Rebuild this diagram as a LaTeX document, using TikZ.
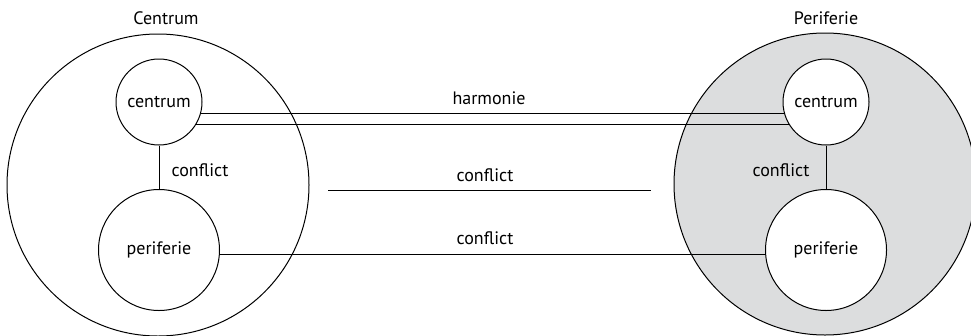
\documentclass[tikz,border=0pt]{standalone}
\usepackage{fontspec}
\setmainfont{PT Sans}
\definecolor{shade}{RGB}{220,221,222}
\begin{document}
\begin{tikzpicture}[x=1pt,y=-1pt, line width=1pt,
  font=\fontsize{18}{21}\selectfont,
  bigcirc/.style={circle, draw, minimum size=302pt, inner sep=0pt},
  smallc/.style={circle, draw, fill=white, minimum size=86pt, inner sep=0pt},
  largec/.style={circle, draw, fill=white, minimum size=121pt, inner sep=0pt},
  lbl/.style={inner sep=0pt}]
\useasboundingbox (0,0) rectangle (971,335);
% big circles
\node[bigcirc] (L) at (158,185) {};
\node[bigcirc, fill=shade] (R) at (825,184) {};
% inner circles
\node[smallc] (lc) at (159,102) {centrum};
\node[largec] (lp) at (159,250) {periferie};
\node[smallc] (rc) at (826,102) {centrum};
\node[largec] (rp) at (826,250) {periferie};
% connectors
\draw (lc.-15) -- (rc.195);
\draw (lc.-31) -- (rc.211);
\draw (lc.south) -- (lp.north);
\draw (rc.south) -- (rp.north);
\draw (lp.-4) -- (rp.184);
\coordinate (m1) at (328,190);
\coordinate (m2) at (651,190);
\draw (m1) -- (m2);
% labels
\node[lbl] (tC) at (166,18) {Centrum};
\node[lbl] (tP) at (826,18) {Periferie};
\node[lbl] (h) at (489,98) {harmonie};
\node[lbl] (c1) at (485,175) {conflict};
\node[lbl] (c2) at (485,238) {conflict};
\node[lbl] (c3) at (200,170) {conflict};
\node[lbl] (c4) at (781,170) {conflict};
\end{tikzpicture}
\end{document}
